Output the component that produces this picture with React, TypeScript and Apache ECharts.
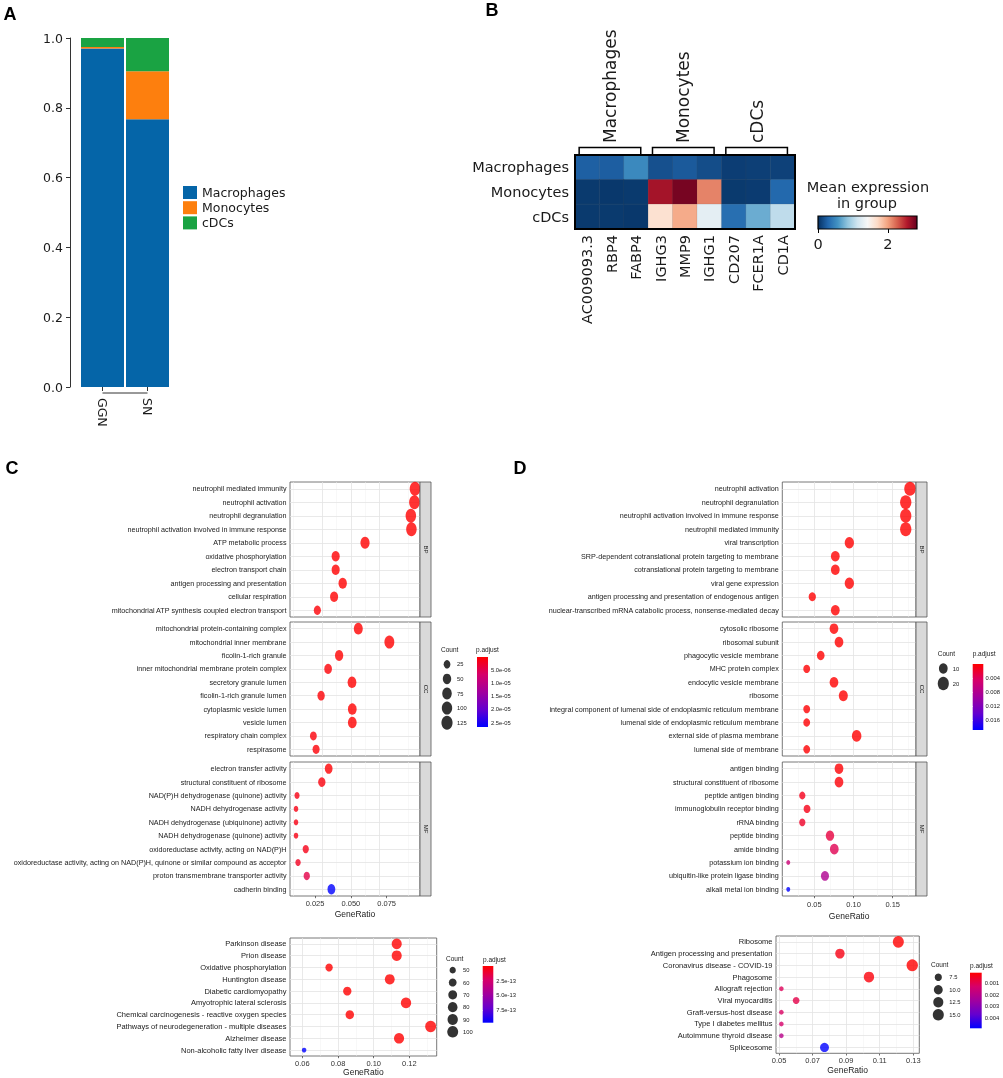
import React, { useEffect, useRef } from 'react';
import * as echarts from 'echarts';

const W = 1003, H = 1078;
const DJ = "'DejaVu Sans', sans-serif";
const AR = "'Liberation Sans', Arial, sans-serif";

// ---------- Panel A ----------
const sampleCats = ['GGN', 'SN'];
const stackNames = ['Macrophages', 'Monocytes', 'cDCs'];
const macroFrac = [0.970, 0.767];
const monoFrac = [0.004, 0.138];
const cdcFrac = [0.026, 0.095];
const stackColors = ['#0565a8', '#fd7f0e', '#1aa343'];

// ---------- Panel B ----------
const heatGenes = ['AC009093.3', 'RBP4', 'FABP4', 'IGHG3', 'MMP9', 'IGHG1', 'CD207', 'FCER1A', 'CD1A'];
const heatRows = ['Macrophages', 'Monocytes', 'cDCs'];
const heatMacro = [0.25, 0.24, 0.5, 0.17, 0.22, 0.15, 0.07, 0.08, 0.09];
const heatMono = [0.05, 0.04, 0.05, 2.6, 2.77, 2.12, 0.05, 0.06, 0.3];
const heatCdc = [0.05, 0.05, 0.04, 1.64, 1.95, 1.27, 0.34, 0.71, 1.05];
const heatGroups = ['Macrophages', 'Monocytes', 'cDCs'];
const heatGroupStart = [0, 3, 6];
const heatGroupEnd = [2, 5, 8];
const heatMax = 2.83;
const heatTicks = [0, 2];
const rdbu = ['#053061', '#2166ac', '#4393c3', '#92c5de', '#d1e5f0', '#f7f7f7', '#fddbc7', '#f4a582', '#d6604d', '#b2182b', '#67001f'];

// ---------- Panel C ----------
const cBpTerms = ['neutrophil mediated immunity', 'neutrophil activation', 'neutrophil degranulation', 'neutrophil activation involved in immune response', 'ATP metabolic process', 'oxidative phosphorylation', 'electron transport chain', 'antigen processing and presentation', 'cellular respiration', 'mitochondrial ATP synthesis coupled electron transport'];
const cBpRatio = [0.0948, 0.0944, 0.0919, 0.0923, 0.0599, 0.0394, 0.0394, 0.0443, 0.0383, 0.0266];
const cBpCount = [125, 125, 121, 122, 79, 52, 52, 58, 51, 35];
const cBpPadj = [1e-12, 1e-12, 1e-12, 1e-12, 2e-9, 5e-8, 5e-8, 2e-8, 6e-8, 4e-7];

const cCcTerms = ['mitochondrial protein-containing complex', 'mitochondrial inner membrane', 'ficolin-1-rich granule', 'inner mitochondrial membrane protein complex', 'secretory granule lumen', 'ficolin-1-rich granule lumen', 'cytoplasmic vesicle lumen', 'vesicle lumen', 'respiratory chain complex', 'respirasome'];
const cCcRatio = [0.0552, 0.0769, 0.0418, 0.0341, 0.0508, 0.0292, 0.051, 0.051, 0.0238, 0.0257];
const cCcCount = [73, 101, 55, 45, 67, 39, 67, 67, 31, 34];
const cCcPadj = [3e-9, 1e-10, 2e-8, 4e-7, 1e-8, 3e-7, 1e-8, 1e-8, 6e-7, 5e-7];

const cMfTerms = ['electron transfer activity', 'structural constituent of ribosome', 'NAD(P)H dehydrogenase (quinone) activity', 'NADH dehydrogenase activity', 'NADH dehydrogenase (ubiquinone) activity', 'NADH dehydrogenase (quinone) activity', 'oxidoreductase activity, acting on NAD(P)H', 'oxidoreductase activity, acting on NAD(P)H, quinone or similar compound as acceptor', 'proton transmembrane transporter activity', 'cadherin binding'];
const cMfRatio = [0.0345, 0.0297, 0.0124, 0.0117, 0.0117, 0.0117, 0.0185, 0.0131, 0.0192, 0.0364];
const cMfCount = [46, 39, 16, 15, 15, 15, 24, 17, 25, 48];
const cMfPadj = [1e-7, 8e-7, 1.2e-6, 1.2e-6, 1.2e-6, 1.2e-6, 1.5e-6, 2e-6, 4.5e-6, 2.67e-5];

const cKeggTerms = ['Parkinson disease', 'Prion disease', 'Oxidative phosphorylation', 'Huntington disease', 'Diabetic cardiomyopathy', 'Amyotrophic lateral sclerosis', 'Chemical carcinogenesis - reactive oxygen species', 'Pathways of neurodegeneration - multiple diseases', 'Alzheimer disease', 'Non-alcoholic fatty liver disease'];
const cKeggRatio = [0.1129, 0.1129, 0.075, 0.109, 0.0852, 0.1181, 0.0866, 0.1319, 0.1142, 0.061];
const cKeggCount = [86, 86, 57, 83, 65, 90, 66, 100, 87, 46];
const cKeggPadj = [1e-18, 1e-18, 1e-16, 1e-17, 1e-15, 1e-17, 1e-15, 1e-19, 1e-17, 9.7e-13];

// ---------- Panel D ----------
const dBpTerms = ['neutrophil activation', 'neutrophil degranulation', 'neutrophil activation involved in immune response', 'neutrophil mediated immunity', 'viral transcription', 'SRP-dependent cotranslational protein targeting to membrane', 'cotranslational protein targeting to membrane', 'viral gene expression', 'antigen processing and presentation of endogenous antigen', 'nuclear-transcribed mRNA catabolic process, nonsense-mediated decay'];
const dBpRatio = [0.172, 0.1666, 0.1666, 0.1666, 0.0947, 0.0768, 0.0768, 0.0947, 0.0474, 0.0768];
const dBpCount = [22, 21, 21, 21, 12, 10, 10, 12, 6, 10];
const dBpPadj = [1e-9, 1e-9, 1e-9, 1e-9, 1e-7, 2e-6, 2e-6, 1e-7, 4e-5, 2e-6];

const dCcTerms = ['cytosolic ribosome', 'ribosomal subunit', 'phagocytic vesicle membrane', 'MHC protein complex', 'endocytic vesicle membrane', 'ribosome', 'integral component of lumenal side of endoplasmic reticulum membrane', 'lumenal side of endoplasmic reticulum membrane', 'external side of plasma membrane', 'lumenal side of membrane'];
const dCcRatio = [0.0751, 0.0815, 0.0582, 0.0403, 0.0751, 0.087, 0.0403, 0.0403, 0.104, 0.0403];
const dCcCount = [10, 10, 7, 5, 10, 11, 5, 5, 13, 5];
const dCcPadj = [1e-6, 1e-6, 2e-5, 1e-4, 1e-6, 1e-6, 1e-4, 1e-4, 1e-5, 1e-4];

const dMfTerms = ['antigen binding', 'structural constituent of ribosome', 'peptide antigen binding', 'immunoglobulin receptor binding', 'rRNA binding', 'peptide binding', 'amide binding', 'potassium ion binding', 'ubiquitin-like protein ligase binding', 'alkali metal ion binding'];
const dMfRatio = [0.0815, 0.0815, 0.0347, 0.0407, 0.0347, 0.07, 0.0755, 0.0168, 0.0636, 0.0168];
const dMfCount = [10, 10, 4, 5, 4, 9, 10, 2, 8, 2];
const dMfPadj = [0.0002, 0.0003, 0.0012, 0.001, 0.0018, 0.0028, 0.0036, 0.0058, 0.0082, 0.0189];

const dKeggTerms = ['Ribosome', 'Antigen processing and presentation', 'Coronavirus disease - COVID-19', 'Phagosome', 'Allograft rejection', 'Viral myocarditis', 'Graft-versus-host disease', 'Type I diabetes mellitus', 'Autoimmune thyroid disease', 'Spliceosome'];
const dKeggRatio = [0.1211, 0.0863, 0.1294, 0.1036, 0.0514, 0.0602, 0.0514, 0.0514, 0.0514, 0.0771];
const dKeggCount = [15, 11, 16, 13, 6, 7, 6, 6, 6, 10];
const dKeggPadj = [0.00008, 0.0003, 0.00008, 0.0002, 0.0011, 0.0009, 0.0012, 0.0013, 0.002, 0.00493];

// legends
const cGoCountBreaks = [25, 50, 75, 100, 125];
const cKeggCountBreaks = [50, 60, 70, 80, 90, 100];
const dGoCountBreaks = [10, 20];
const dKeggCountBreaks = [7.5, 10, 12.5, 15];
const cGoPTicks = [5e-6, 1e-5, 1.5e-5, 2e-5, 2.5e-5];
const cKeggPTicks = [2.5e-13, 5e-13, 7.5e-13];
const dGoPTicks = [0.004, 0.008, 0.012, 0.016];
const dKeggPTicks = [0.001, 0.002, 0.003, 0.004];
const padjColors = ['#ff0000', '#d6006a', '#a1009e', '#6400cf', '#0000ff'];

const TXT = '#1a1a1a';

const sci = (v: number) => {
  const [m, e] = v.toExponential(1).split('e');
  const n = parseInt(e, 10);
  return m + 'e' + (n < 0 ? '-' : '+') + String(Math.abs(n)).padStart(2, '0');
};
const makeSize = (cMin: number, cMax: number, dMin: number, dMax: number) => (c: number) =>
  dMin + (dMax - dMin) * Math.sqrt(Math.max(0, (c - cMin) / (cMax - cMin)));

function buildOption() {
  const grid: any[] = [], xAxis: any[] = [], yAxis: any[] = [], series: any[] = [], els: any[] = [], visualMap: any[] = [];
  const addGrid = (g: any, xa: any, ya: any) => {
    const i = grid.length;
    grid.push(g);
    xAxis.push({ ...xa, gridIndex: i });
    yAxis.push({ ...ya, gridIndex: i });
    return i;
  };
  const txt = (text: string, x: number, y: number, o: any = {}) => ({
    type: 'text', x, y, rotation: o.rotation || 0, z: 50, silent: true,
    style: {
      text, fill: o.fill || TXT, fontSize: o.size || 10, fontFamily: o.family || AR, fontWeight: o.weight || 'normal',
      align: o.align || 'left', textAlign: o.align || 'left', verticalAlign: o.va || 'middle', textVerticalAlign: o.va || 'middle',
    },
  });

  // ---- Panel A ----
  const gA = addGrid({ left: 80, top: 38, width: 90, height: 349 },
    { type: 'category', data: sampleCats, offset: 6, axisLine: { show: false },
      axisTick: { show: true, alignWithLabel: true, length: 4, lineStyle: { color: '#333' } },
      axisLabel: { rotate: -90, margin: 5, fontSize: 12.5, fontFamily: DJ, color: TXT, interval: 0 } },
    { type: 'value', min: 0, max: 1, interval: 0.2, offset: 10, splitLine: { show: false },
      axisLine: { show: true, lineStyle: { color: '#333' } }, axisTick: { show: true, length: 4, lineStyle: { color: '#333' } },
      axisLabel: { fontSize: 12.5, fontFamily: DJ, color: TXT, margin: 7, formatter: (v: number) => v.toFixed(1) } });
  [macroFrac, monoFrac, cdcFrac].forEach((arr, k) => {
    series.push({ type: 'bar', name: stackNames[k], data: arr, stack: 'frac', barWidth: 43, xAxisIndex: gA, yAxisIndex: gA, itemStyle: { color: stackColors[k] } });
  });
  els.push({ type: 'line', shape: { x1: 80 + 22.5, y1: 393, x2: 80 + 67.5, y2: 393 }, style: { stroke: '#333', lineWidth: 1 }, silent: true });

  // ---- Panel B ----
  const hx = 575, hy = 155, hw = 220, hh = 74, cw = hw / heatGenes.length;
  const gH = addGrid({ left: hx, top: hy, width: hw, height: hh },
    { type: 'category', data: heatGenes, axisLine: { show: false }, splitLine: { show: false },
      axisTick: { alignWithLabel: true, interval: 0, length: 4, lineStyle: { color: '#000' } },
      axisLabel: { rotate: 90, interval: 0, fontSize: 14.5, fontFamily: DJ, color: TXT, margin: 6 } },
    { type: 'category', data: heatRows, inverse: true, axisLine: { show: false },
      axisTick: { alignWithLabel: true, interval: 0, length: 4, lineStyle: { color: '#000' } },
      axisLabel: { interval: 0, fontSize: 14.5, fontFamily: DJ, color: TXT, margin: 6 } });
  const heatData: any[] = [];
  [heatMacro, heatMono, heatCdc].forEach((row, i) => row.forEach((v, j) => heatData.push([j, i, v])));
  const heatSi = series.length;
  series.push({ type: 'heatmap', name: 'expr', xAxisIndex: gH, yAxisIndex: gH, data: heatData, itemStyle: { borderColor: 'rgba(90,90,90,0.25)', borderWidth: 0.5 } });
  visualMap.push({ type: 'continuous', show: false, min: 0, max: heatMax, seriesIndex: [heatSi], dimension: 2, inRange: { color: rdbu } });
  els.push({ type: 'rect', shape: { x: hx, y: hy, width: hw, height: hh }, style: { fill: 'none', stroke: '#000', lineWidth: 2 }, z: 60, silent: true });
  heatGroups.forEach((g, k) => {
    const x1 = hx + (heatGroupStart[k] + 0.17) * cw, x2 = hx + (heatGroupEnd[k] + 1 - 0.31) * cw;
    els.push({ type: 'polyline', shape: { points: [[x1, hy], [x1, 147.5], [x2, 147.5], [x2, hy]] }, style: { fill: 'none', stroke: '#000', lineWidth: 1.5 }, z: 60, silent: true });
    els.push(txt(g, (x1 + x2) / 2, 143, { rotation: Math.PI / 2, size: 17, family: DJ, align: 'left', va: 'middle' }));
  });
  // heat colorbar
  const cbx = 818, cby = 216, cbw = 99, cbh = 13;
  els.push({ type: 'rect', shape: { x: cbx, y: cby, width: cbw, height: cbh }, z: 5, silent: true,
    style: { fill: new echarts.graphic.LinearGradient(0, 0, 1, 0, rdbu.map((c, i) => ({ offset: i / (rdbu.length - 1), color: c }))), stroke: '#000', lineWidth: 1.2 } });
  addGrid({ left: cbx, top: cby, width: cbw, height: cbh },
    { type: 'value', min: 0, max: heatMax, splitLine: { show: false }, axisLine: { show: false },
      axisTick: { show: true, customValues: heatTicks, length: 4, lineStyle: { color: '#000' } },
      axisLabel: { customValues: heatTicks, fontSize: 14.5, fontFamily: DJ, color: TXT, margin: 7 } },
    { type: 'value', show: false, min: 0, max: 1 });
  els.push(txt('Mean expression', 868, 187, { size: 14.5, family: DJ, align: 'center' }));
  els.push(txt('in group', 867, 203, { size: 14.5, family: DJ, align: 'center' }));

  // ---- Facet helper ----
  const addFacet = (box: any, terms: string[], ratio: number[], count: number[], padj: number[], xc: any, showX: boolean, size: (c: number) => number, aspect: number, font: number, strip?: string) => {
    const gi = addGrid({ left: box.l, top: box.t, width: box.w, height: box.h, show: true, borderColor: '#555', borderWidth: 0.8, backgroundColor: '#fff' },
      { type: 'value', min: xc.min, max: xc.max, splitLine: { show: false }, axisLine: { show: false },
        axisTick: { show: showX, customValues: xc.ticks, length: 2.2, lineStyle: { color: '#333', width: 0.7 } },
        axisLabel: { show: showX, customValues: xc.ticks, formatter: xc.fmt, fontSize: 7.5, fontFamily: AR, color: '#333', margin: xc.margin },
        name: showX ? 'GeneRatio' : '', nameLocation: 'middle', nameGap: xc.nameGap, nameTextStyle: { fontSize: 8.5, fontFamily: AR, color: TXT } },
      { type: 'category', data: terms, inverse: true, axisLine: { show: false },
        axisTick: { alignWithLabel: true, interval: 0, length: 2.5, lineStyle: { color: '#333', width: 0.7 } },
        axisLabel: { interval: 0, fontSize: font, fontFamily: AR, color: TXT, margin: 3.5 } });
    const lines: any[] = [];
    xc.majors.forEach((v: number) => lines.push({ xAxis: v, lineStyle: { color: '#e3e3e3', width: 0.8, type: 'solid' } }));
    xc.minors.forEach((v: number) => lines.push({ xAxis: v, lineStyle: { color: '#f1f1f1', width: 0.5, type: 'solid' } }));
    terms.forEach((_t, i) => lines.push({ yAxis: i, lineStyle: { color: '#e3e3e3', width: 0.8, type: 'solid' } }));
    series.push({ type: 'scatter', name: 'grid' + gi, xAxisIndex: gi, yAxisIndex: gi, data: [], z: 1, silent: true,
      markLine: { silent: true, z: 1, symbol: ['none', 'none'], label: { show: false }, lineStyle: { type: 'solid' }, data: lines } });
    const si = series.length;
    series.push({ type: 'scatter', name: 'pts' + gi, xAxisIndex: gi, yAxisIndex: gi, z: 10, silent: true,
      data: terms.map((_t, i) => [ratio[i], i, padj[i], count[i]]),
      symbolSize: (v: any) => { const d = size(v[3]); return [d * aspect, d]; } });
    if (strip) {
      const R = box.l + box.w;
      els.push({ type: 'rect', shape: { x: R, y: box.t, width: 11, height: box.h }, style: { fill: '#d9d9d9', stroke: '#555', lineWidth: 0.8 }, z: 40, silent: true });
      els.push(txt(strip, R + 5.5, box.t + box.h / 2, { rotation: -Math.PI / 2, size: 6, align: 'center' }));
    }
    return si;
  };
  const addSizeLegend = (cx: number, top: number, height: number, breaks: number[], fmt: (v: number) => string, size: (c: number) => number, aspect: number, labelX: number) => {
    const gi = addGrid({ left: cx - 4, top, width: 8, height },
      { type: 'category', data: ['k'], show: false },
      { type: 'category', data: breaks.map(fmt), inverse: true, position: 'right', axisLine: { show: false }, axisTick: { show: false },
        axisLabel: { interval: 0, fontSize: 5.8, fontFamily: AR, color: TXT, margin: labelX - (cx + 4) } });
    series.push({ type: 'scatter', name: 'leg' + gi, xAxisIndex: gi, yAxisIndex: gi, silent: true, itemStyle: { color: '#000' },
      data: breaks.map((b, i) => ['k', i, b]), symbolSize: (v: any) => { const d = size(v[2]); return [d * aspect, d]; } });
  };
  const addColorbar = (x: number, y: number, w: number, h: number, min: number, max: number, ticks: number[], fmt: (v: number) => string) => {
    els.push({ type: 'rect', shape: { x, y, width: w, height: h }, z: -1, silent: true,
      style: { fill: new echarts.graphic.LinearGradient(0, 0, 0, 1, padjColors.map((c, i) => ({ offset: i / (padjColors.length - 1), color: c }))) } });
    addGrid({ left: x, top: y, width: w, height: h },
      { type: 'value', show: false, min: 0, max: 1 },
      { type: 'value', min, max, inverse: true, position: 'right', splitLine: { show: false }, axisLine: { show: false },
        axisTick: { show: true, inside: true, length: 2.2, customValues: ticks, lineStyle: { color: '#fff', width: 0.8 } },
        axisLabel: { customValues: ticks, formatter: fmt, fontSize: 5.8, fontFamily: AR, color: TXT, margin: 3 } });
  };

  // ---- Panel C ----
  const cGoSize = makeSize(15, 126, 6, 14);
  const cKeggSize = makeSize(46, 100, 4.8, 11.5);
  const dGoSize = makeSize(2, 22, 4.8, 14);
  const dKeggSize = makeSize(6, 16, 4.8, 12);
  const f2 = (v: number) => v.toFixed(2);
  const cGoX = { min: 0.0075, max: 0.0983, ticks: [0.025, 0.05, 0.075], fmt: (v: number) => v.toFixed(3), majors: [0.025, 0.05, 0.075], minors: [0.0125, 0.0375, 0.0625, 0.0875], nameGap: 13.5, margin: 3.5 };
  const cKeggX = { min: 0.0531, max: 0.1353, ticks: [0.06, 0.08, 0.1, 0.12], fmt: f2, majors: [0.06, 0.08, 0.1, 0.12], minors: [0.07, 0.09, 0.11, 0.13], nameGap: 11, margin: 3 };
  const dGoX = { min: 0.0092, max: 0.1797, ticks: [0.05, 0.1, 0.15], fmt: f2, majors: [0.05, 0.1, 0.15], minors: [0.025, 0.075, 0.125, 0.175], nameGap: 15.5, margin: 4.5 };
  const dKeggX = { min: 0.0482, max: 0.1336, ticks: [0.05, 0.07, 0.09, 0.11, 0.13], fmt: f2, majors: [0.05, 0.07, 0.09, 0.11, 0.13], minors: [0.06, 0.08, 0.1, 0.12], nameGap: 10.5, margin: 3 };

  const cL = 290, cW = 130;
  const s1 = addFacet({ l: cL, t: 482, w: cW, h: 135 }, cBpTerms, cBpRatio, cBpCount, cBpPadj, cGoX, false, cGoSize, 0.76, 7.2, 'BP');
  const s2 = addFacet({ l: cL, t: 622, w: cW, h: 134 }, cCcTerms, cCcRatio, cCcCount, cCcPadj, cGoX, false, cGoSize, 0.76, 7.2, 'CC');
  const s3 = addFacet({ l: cL, t: 762, w: cW, h: 134 }, cMfTerms, cMfRatio, cMfCount, cMfPadj, cGoX, true, cGoSize, 0.76, 7.2, 'MF');
  visualMap.push({ type: 'continuous', show: false, min: 0, max: 2.67e-5, dimension: 2, seriesIndex: [s1, s2, s3], inRange: { color: padjColors } });
  const s4 = addFacet({ l: cL, t: 938, w: 146.7, h: 118 }, cKeggTerms, cKeggRatio, cKeggCount, cKeggPadj, cKeggX, true, cKeggSize, 0.95, 7.5);
  visualMap.push({ type: 'continuous', show: false, min: 0, max: 9.7e-13, dimension: 2, seriesIndex: [s4], inRange: { color: padjColors } });

  addSizeLegend(447, 657, 73, cGoCountBreaks, (v) => String(v), cGoSize, 0.8, 457);
  els.push(txt('Count', 441, 649, { size: 6.5 }));
  els.push(txt('p.adjust', 476, 649, { size: 6.5 }));
  addColorbar(477, 657, 11, 70, 0, 2.67e-5, cGoPTicks, sci);

  addSizeLegend(452.7, 964, 74, cKeggCountBreaks, (v) => String(v), cKeggSize, 0.95, 463);
  els.push(txt('Count', 446, 958.5, { size: 6.5 }));
  els.push(txt('p.adjust', 483, 959.5, { size: 6.5 }));
  addColorbar(482.7, 966, 10.6, 56.7, 0, 9.7e-13, cKeggPTicks, sci);

  // ---- Panel D ----
  const dL = 782.3, dW = 133.7;
  const t1 = addFacet({ l: dL, t: 482, w: dW, h: 135 }, dBpTerms, dBpRatio, dBpCount, dBpPadj, dGoX, false, dGoSize, 0.82, 7.2, 'BP');
  const t2 = addFacet({ l: dL, t: 622, w: dW, h: 134 }, dCcTerms, dCcRatio, dCcCount, dCcPadj, dGoX, false, dGoSize, 0.82, 7.2, 'CC');
  const t3 = addFacet({ l: dL, t: 762, w: dW, h: 134 }, dMfTerms, dMfRatio, dMfCount, dMfPadj, dGoX, true, dGoSize, 0.82, 7.2, 'MF');
  visualMap.push({ type: 'continuous', show: false, min: 0, max: 0.0189, dimension: 2, seriesIndex: [t1, t2, t3], inRange: { color: padjColors } });
  const t4 = addFacet({ l: 776, t: 936, w: 143.3, h: 117.3 }, dKeggTerms, dKeggRatio, dKeggCount, dKeggPadj, dKeggX, true, dKeggSize, 0.95, 7.5);
  visualMap.push({ type: 'continuous', show: false, min: 0.00008, max: 0.00493, dimension: 2, seriesIndex: [t4], inRange: { color: padjColors } });

  addSizeLegend(943.3, 661, 30, dGoCountBreaks, (v) => String(v), dGoSize, 0.82, 952.7);
  els.push(txt('Count', 937.7, 653.3, { size: 6.5 }));
  els.push(txt('p.adjust', 972.7, 653.3, { size: 6.5 }));
  addColorbar(972.7, 664, 10.6, 66, 0, 0.0189, dGoPTicks, (v) => v.toFixed(3));

  addSizeLegend(938.3, 971, 50, dKeggCountBreaks, (v) => v.toFixed(1), dKeggSize, 0.95, 949.3);
  els.push(txt('Count', 931, 964.3, { size: 6.5 }));
  els.push(txt('p.adjust', 970, 965.7, { size: 6.5 }));
  addColorbar(970, 972.7, 11.7, 55.6, 0.00008, 0.00493, dKeggPTicks, (v) => v.toFixed(3));

  // ---- Panel letters ----
  els.push(txt('A', 10, 13.5, { size: 18, weight: 'bold', align: 'center', fill: '#000' }));
  els.push(txt('B', 492, 9.5, { size: 18, weight: 'bold', align: 'center', fill: '#000' }));
  els.push(txt('C', 12, 468, { size: 18, weight: 'bold', align: 'center', fill: '#000' }));
  els.push(txt('D', 520, 468, { size: 18, weight: 'bold', align: 'center', fill: '#000' }));

  return {
    animation: false,
    grid, xAxis, yAxis, series, visualMap,
    legend: { data: stackNames, orient: 'vertical', left: 178, top: 181, itemWidth: 14, itemHeight: 13, itemGap: 2.2, icon: 'rect', selectedMode: false,
      textStyle: { fontSize: 12.5, fontFamily: DJ, color: TXT } },
    graphic: { elements: els },
  };
}

export default function App() {
  const ref = useRef<HTMLDivElement>(null);
  useEffect(() => {
    document.body.style.margin = '0';
    const chart = echarts.init(ref.current!, null, { renderer: 'svg' });
    chart.setOption(buildOption() as any);
    return () => chart.dispose();
  }, []);
  return <div ref={ref} style={{ width: W, height: H, willChange: 'transform' }} />;
}
